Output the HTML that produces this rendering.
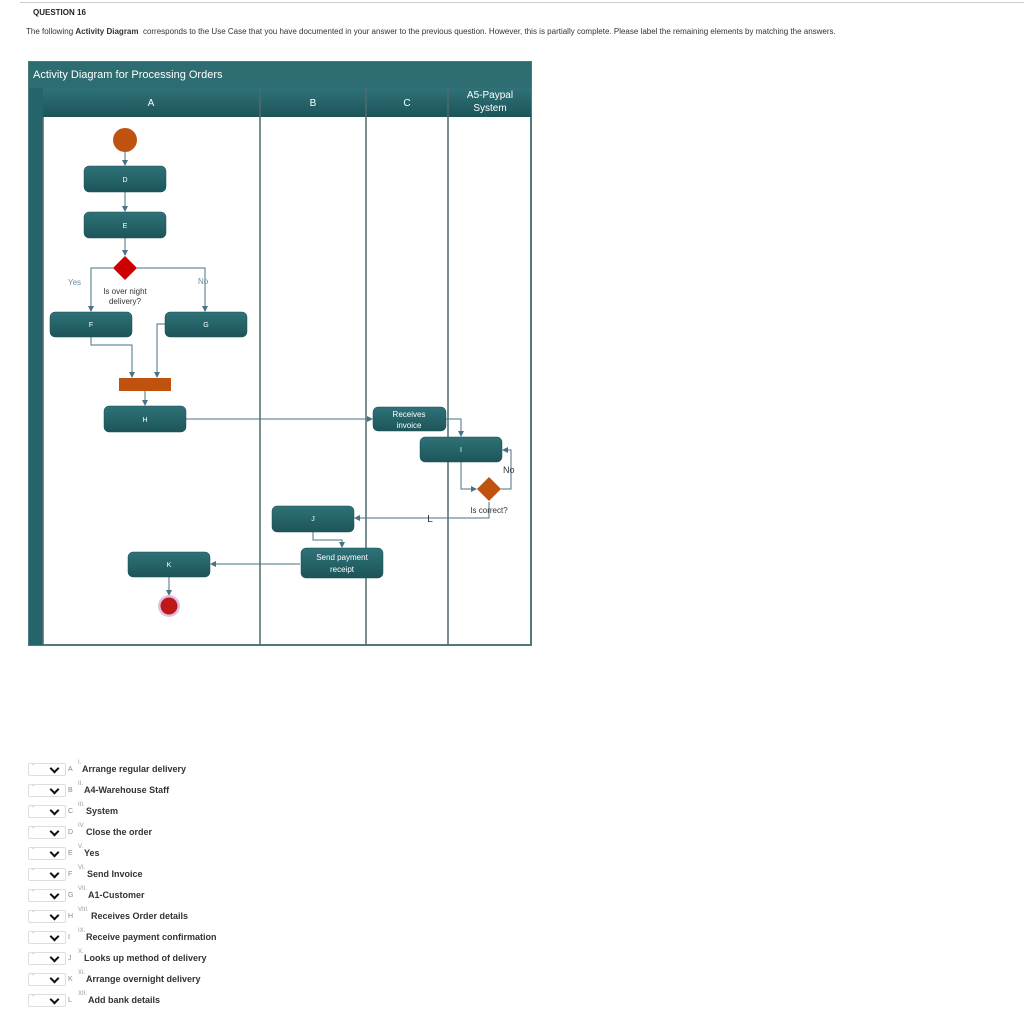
<!DOCTYPE html>
<html><head><meta charset="utf-8"><style>
body{margin:0;width:1024px;height:1019px;background:#fff;font-family:"Liberation Sans",Arial,sans-serif;position:relative;overflow:hidden}
.t{position:absolute;white-space:nowrap}
.row{position:absolute;left:28px;width:400px;height:14px;font-size:9px;color:#222;white-space:nowrap}
.sel{position:absolute;left:0;top:0;width:36px;height:11px;border:1px solid #ddd;border-radius:2px;background:#fff}
.sel span{position:absolute;left:3px;top:-2px;font-size:7px;color:#aaa}
.sel i{position:absolute;left:22px;top:1px;width:5px;height:5px;border-right:2px solid #111;border-bottom:2px solid #111;transform:rotate(45deg)}
.lt{position:absolute;left:40px;top:3px;font-size:7px;color:#888}
.rn{position:absolute;left:50px;top:-3px;font-size:6px;color:#999}
.tx{position:absolute;top:1px;font-weight:bold;font-size:9px;color:#333;white-space:nowrap}
</style></head><body>
<div style="position:absolute;left:20px;top:2px;width:1004px;height:1px;background:#ccc"></div>
<div class="t" style="left:33px;top:8px;font-size:8px;font-weight:bold;color:#222">QUESTION 16</div>
<div class="t" style="left:26px;top:27px;font-size:8px;color:#333">The following <b>Activity Diagram</b>&nbsp; corresponds to the Use Case that you have documented in your answer to the previous question. However, this is partially complete. Please label the remaining elements by matching the answers.</div>
<svg width="1024" height="700" style="position:absolute;left:0;top:0" font-family="Liberation Sans, sans-serif">
<defs>
<linearGradient id="g" x1="0" y1="0" x2="0" y2="1"><stop offset="0" stop-color="#2f7278"/><stop offset="1" stop-color="#1c5559"/></linearGradient>
<marker id="a" markerWidth="6" markerHeight="6" refX="5" refY="3" orient="auto"><path d="M0,0L6,3L0,6z" fill="#4a7186"/></marker>
</defs>
<rect x="29" y="62" width="502" height="583" fill="#fff" stroke="#4e7a7e" stroke-width="2"/>
<rect x="29" y="62" width="502" height="26" fill="#2d6d72"/>
<text x="33" y="78" font-size="11" fill="#fff">Activity Diagram for Processing Orders</text>
<rect x="29" y="88" width="14" height="557" fill="#24646a"/>
<rect x="43" y="88" width="488" height="29" fill="url(#g)"/>
<g stroke="#4e6a6e" stroke-width="1.5"><line x1="260" y1="88" x2="260" y2="645"/><line x1="366" y1="88" x2="366" y2="645"/><line x1="448" y1="88" x2="448" y2="645"/><line x1="43" y1="117" x2="43" y2="645"/></g>
<g fill="#fff" font-size="10" text-anchor="middle"><text x="151" y="106">A</text><text x="313" y="106">B</text><text x="407" y="106">C</text><text x="490" y="98">A5-Paypal</text><text x="490" y="111">System</text></g>
<g stroke="#4a7186" fill="none" stroke-width="1" marker-end="url(#a)">
<line x1="125" y1="152" x2="125" y2="165"/><line x1="125" y1="192" x2="125" y2="211"/><line x1="125" y1="238" x2="125" y2="255"/>
<path d="M113,268H91V311"/><path d="M137,268H205V311"/>
<path d="M91,337V345H132V377"/><path d="M165,324H157V377"/>
<line x1="145" y1="391" x2="145" y2="405"/>
<path d="M186,419H372"/><path d="M446,419H461V436"/>
<path d="M461,462V489H476"/><path d="M501,489H511V450H503"/>
<path d="M489,502V518H355"/><path d="M313,532V540H342V547"/>
<path d="M300,564H211"/><line x1="169" y1="577" x2="169" y2="595"/>
</g>
<text x="430" y="522" font-size="10" fill="#333" text-anchor="middle">L</text>
<circle cx="125" cy="140" r="12" fill="#c0520f"/>
<g fill="url(#g)" stroke="#1b4e52" stroke-width="0.5">
<rect x="84" y="166" width="82" height="26" rx="5"/><rect x="84" y="212" width="82" height="26" rx="5"/>
<rect x="50" y="312" width="82" height="25" rx="5"/><rect x="165" y="312" width="82" height="25" rx="5"/>
<rect x="104" y="406" width="82" height="26" rx="5"/><rect x="373" y="407" width="73" height="24" rx="5"/>
<rect x="420" y="437" width="82" height="25" rx="5"/><rect x="272" y="506" width="82" height="26" rx="5"/>
<rect x="301" y="548" width="82" height="30" rx="5"/><rect x="128" y="552" width="82" height="25" rx="5"/>
</g>
<path d="M125,256L137,268L125,280L113,268z" fill="#c00"/>
<path d="M489,477L501,489L489,501L477,489z" fill="#c0520f"/>
<rect x="119" y="378" width="52" height="13" fill="#c0520f"/>
<circle cx="169" cy="606" r="11" fill="#e0c0e0"/><circle cx="169" cy="606" r="8.5" fill="#c01818"/>
<g fill="#fff" font-size="7" text-anchor="middle">
<text x="125" y="182">D</text><text x="125" y="228">E</text><text x="91" y="327">F</text><text x="206" y="327">G</text>
<text x="145" y="422">H</text><text x="461" y="452">I</text><text x="313" y="521">J</text><text x="169" y="567">K</text>
<text x="409" y="417" font-size="8">Receives</text><text x="409" y="428" font-size="8">invoice</text>
<text x="342" y="560" font-size="8">Send payment</text><text x="342" y="572" font-size="8">receipt</text>
</g>
<g font-size="8" fill="#6a8ea0"><text x="68" y="285">Yes</text><text x="198" y="284">No</text></g>
<g font-size="8" fill="#333" text-anchor="middle"><text x="125" y="294">Is over night</text><text x="125" y="304">delivery?</text><text x="489" y="513">Is correct?</text></g>
<text x="503" y="473" font-size="9" fill="#333">No</text>
</svg>
<div class="row" style="top:763px"><div class="sel"><span>-</span><i></i></div><span class="lt">A</span><span class="rn">I.</span><span class="tx" style="left:54px">Arrange regular delivery</span></div>
<div class="row" style="top:784px"><div class="sel"><span>-</span><i></i></div><span class="lt">B</span><span class="rn">II.</span><span class="tx" style="left:56px">A4-Warehouse Staff</span></div>
<div class="row" style="top:805px"><div class="sel"><span>-</span><i></i></div><span class="lt">C</span><span class="rn">III.</span><span class="tx" style="left:58px">System</span></div>
<div class="row" style="top:826px"><div class="sel"><span>-</span><i></i></div><span class="lt">D</span><span class="rn">IV.</span><span class="tx" style="left:58px">Close the order</span></div>
<div class="row" style="top:847px"><div class="sel"><span>-</span><i></i></div><span class="lt">E</span><span class="rn">V.</span><span class="tx" style="left:56px">Yes</span></div>
<div class="row" style="top:868px"><div class="sel"><span>-</span><i></i></div><span class="lt">F</span><span class="rn">VI.</span><span class="tx" style="left:59px">Send Invoice</span></div>
<div class="row" style="top:889px"><div class="sel"><span>-</span><i></i></div><span class="lt">G</span><span class="rn">VII.</span><span class="tx" style="left:60px">A1-Customer</span></div>
<div class="row" style="top:910px"><div class="sel"><span>-</span><i></i></div><span class="lt">H</span><span class="rn">VIII.</span><span class="tx" style="left:63px">Receives Order details</span></div>
<div class="row" style="top:931px"><div class="sel"><span>-</span><i></i></div><span class="lt">I</span><span class="rn">IX.</span><span class="tx" style="left:58px">Receive payment confirmation</span></div>
<div class="row" style="top:952px"><div class="sel"><span>-</span><i></i></div><span class="lt">J</span><span class="rn">X.</span><span class="tx" style="left:56px">Looks up method of delivery</span></div>
<div class="row" style="top:973px"><div class="sel"><span>-</span><i></i></div><span class="lt">K</span><span class="rn">XI.</span><span class="tx" style="left:58px">Arrange overnight delivery</span></div>
<div class="row" style="top:994px"><div class="sel"><span>-</span><i></i></div><span class="lt">L</span><span class="rn">XII.</span><span class="tx" style="left:60px">Add bank details</span></div>
</body></html>
